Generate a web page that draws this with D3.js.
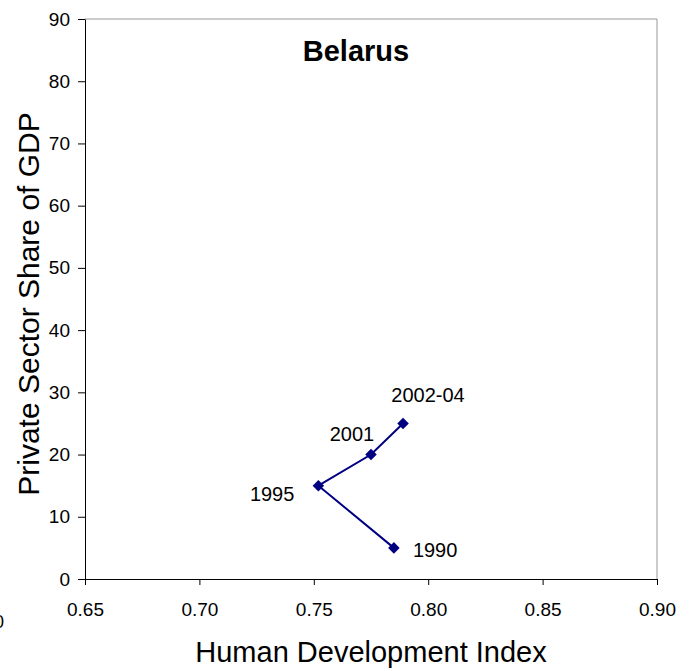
<!DOCTYPE html>
<html lang="en">
  <head>
    <meta charset="utf-8" />
    <title>Belarus</title>
    <script src="https://d3js.org/d3.v7.min.js" charset="utf-8"></script>
    <style>
      body { margin: 0; background: #fff; }
      text { font-family: "Liberation Sans", Arial, sans-serif; fill: #000; }
      .axis text { font-size: 19px; }
      .axis path, .axis line { stroke: #000; }
    </style>
  </head>
  <body>
    <div id="svg-container"></div>
    <script>
      // data
      const years = ["1990", "1995", "2001", "2002-04"];
      const hdi = [0.785, 0.752, 0.775, 0.789];
      const privateShare = [5, 15, 20, 25];
      const xTicks = [0.65, 0.70, 0.75, 0.80, 0.85, 0.90];
      const yTicks = [0, 10, 20, 30, 40, 50, 60, 70, 80, 90];

      const data = years.map((y, i) => ({ year: y, x: hdi[i], y: privateShare[i] }));

      const W = 693, H = 671;
      const margin = { top: 19, left: 85, right: 36, bottom: 92 };
      const width = W - margin.left - margin.right;
      const height = H - margin.top - margin.bottom;

      const svg = d3.select("#svg-container").append("svg")
        .attr("width", W).attr("height", H);

      const g = svg.append("g").attr("transform", `translate(${margin.left},${margin.top})`);

      const xscale = d3.scaleLinear().domain([0.65, 0.90]).range([0, width]);
      const yscale = d3.scaleLinear().domain([0, 90]).range([height, 0]);

      // plot border (grey on top / right)
      g.append("path")
        .attr("d", `M0,0H${width}V${height}`)
        .attr("fill", "none").attr("stroke", "#999").attr("stroke-width", 1);

      const xaxis = d3.axisBottom(xscale).tickValues(xTicks).tickFormat(d3.format(".2f"))
        .tickSizeInner(6).tickSizeOuter(0).tickPadding(18);
      g.append("g").attr("class", "axis")
        .attr("transform", `translate(0,${height})`).call(xaxis);

      const yaxis = d3.axisLeft(yscale).tickValues(yTicks)
        .tickSizeInner(7).tickSizeOuter(0).tickPadding(8);
      g.append("g").attr("class", "axis").call(yaxis);

      // series line
      const line = d3.line().x((d) => xscale(d.x)).y((d) => yscale(d.y));
      g.append("path").datum(data)
        .attr("d", line)
        .attr("fill", "none").attr("stroke", "#000080").attr("stroke-width", 2);

      // diamond markers
      g.selectAll(".pt").data(data).join("path")
        .attr("class", "pt")
        .attr("d", d3.symbol().type(d3.symbolDiamond2).size(85))
        .attr("transform", (d) => `translate(${xscale(d.x)},${yscale(d.y)})`)
        .attr("fill", "#000080");

      // point labels (offsets relative to the marker)
      const labelOff = {
        "1990": [19, 9, "start"],
        "1995": [-24, 15, "end"],
        "2001": [-19, -14, "middle"],
        "2002-04": [25, -21, "middle"]
      };
      g.selectAll(".lbl").data(data).join("text")
        .attr("class", "lbl")
        .attr("x", (d) => xscale(d.x) + labelOff[d.year][0])
        .attr("y", (d) => yscale(d.y) + labelOff[d.year][1])
        .attr("text-anchor", (d) => labelOff[d.year][2])
        .style("font-size", "20px")
        .text((d) => d.year);

      // title
      svg.append("text")
        .attr("x", 356).attr("y", 61)
        .attr("text-anchor", "middle")
        .style("font-size", "29px").style("font-weight", "bold")
        .text("Belarus");

      // axis titles
      svg.append("text")
        .attr("x", 371).attr("y", 662)
        .attr("text-anchor", "middle")
        .style("font-size", "29px")
        .text("Human Development Index");

      svg.append("text")
        .attr("transform", "translate(39,304) rotate(-90)")
        .attr("text-anchor", "middle")
        .style("font-size", "30px")
        .text("Private Sector Share of GDP");

      // stray clipped label at the left edge
      svg.append("text")
        .attr("x", 4).attr("y", 628)
        .attr("text-anchor", "end")
        .style("font-size", "18px")
        .text("0");
    </script>
  </body>
</html>
